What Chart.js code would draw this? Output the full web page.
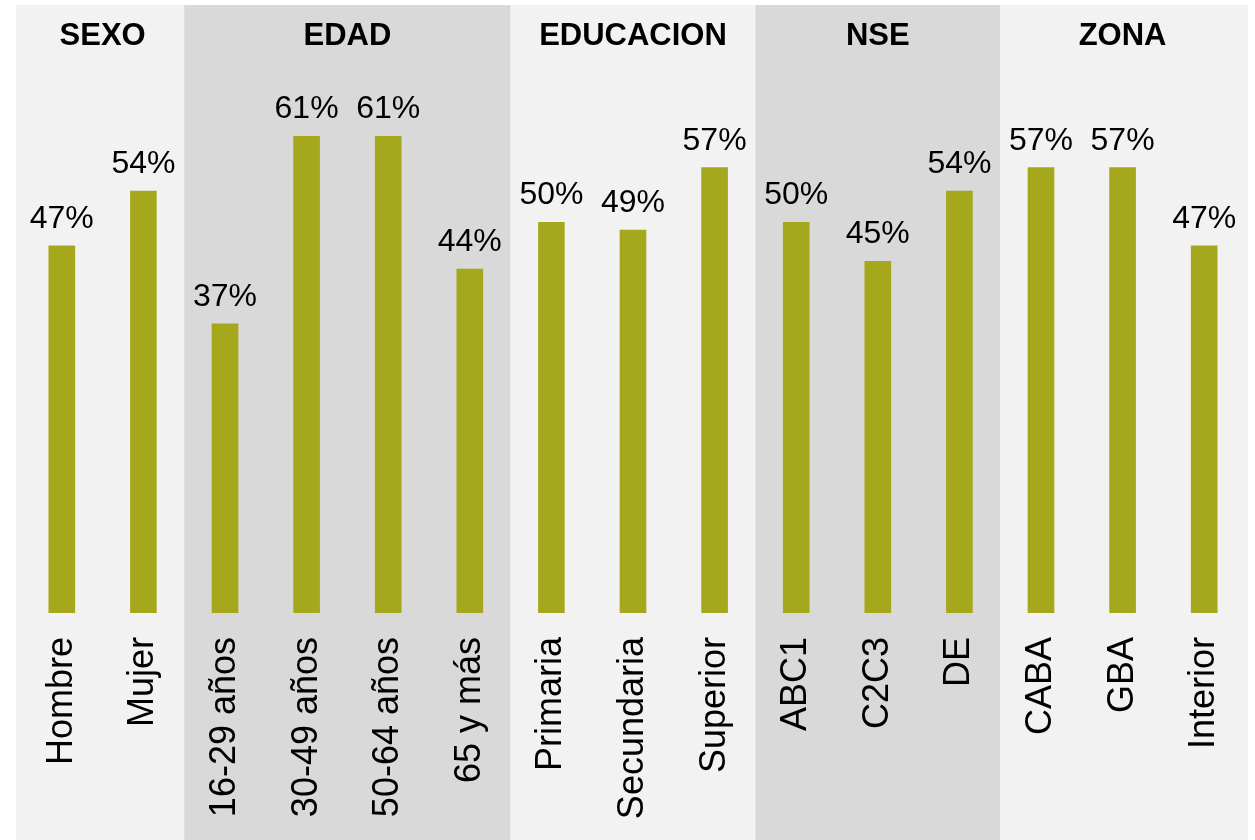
<!DOCTYPE html>
<html>
<head>
<meta charset="utf-8">
<script src="https://cdn.jsdelivr.net/npm/chart.js@4.4.0/dist/chart.umd.min.js"></script>
<style>
  html, body { margin: 0; padding: 0; background: #fff; }
  #wrap { width: 1255px; height: 840px; }
</style>
</head>
<body>
<div id="wrap"><canvas id="chart" width="1255" height="840"></canvas></div>
<script>
const categories = ['Hombre', 'Mujer', '16-29 años', '30-49 años', '50-64 años', '65 y más',
    'Primaria', 'Secundaria', 'Superior', 'ABC1', 'C2C3', 'DE', 'CABA', 'GBA', 'Interior'];
const values = [47, 54, 37, 61, 61, 44, 50, 49, 57, 50, 45, 54, 57, 57, 47];
const groupNames = ['SEXO', 'EDAD', 'EDUCACION', 'NSE', 'ZONA'];
const groupSizes = [2, 4, 3, 3, 3];

const fontFamily = '"Liberation Sans", Arial, Helvetica, sans-serif';
const barColor = '#a5a81d';
const panelColors = ['#f2f2f2', '#d9d9d9'];

// grey panels behind each group + bold group titles
const panelsPlugin = {
    id: 'panels',
    beforeDraw(chart) {
        const ctx = chart.ctx;
        const x = chart.scales.x;
        let start = 0;
        ctx.save();
        groupSizes.forEach((size, g) => {
            let left = x.getPixelForValue(start - 0.5);
            let right = x.getPixelForValue(start + size - 0.5);
            if (g === 0) left -= 5;
            if (g === groupSizes.length - 1) right += 3;
            ctx.fillStyle = panelColors[g % 2];
            ctx.fillRect(left, 5, right - left, chart.height - 5);
            ctx.fillStyle = '#000';
            ctx.font = 'bold 31px ' + fontFamily;
            ctx.textAlign = 'center';
            ctx.textBaseline = 'middle';
            const mid = (x.getPixelForValue(start - 0.5) + x.getPixelForValue(start + size - 0.5)) / 2;
            ctx.fillText(groupNames[g], mid, 36);
            start += size;
        });
        ctx.restore();
    }
};

// percentage labels above the bars
const valueLabels = {
    id: 'valueLabels',
    afterDatasetsDraw(chart) {
        const ctx = chart.ctx;
        const meta = chart.getDatasetMeta(0);
        ctx.save();
        ctx.fillStyle = '#000';
        ctx.font = '32px ' + fontFamily;
        ctx.textAlign = 'center';
        ctx.textBaseline = 'alphabetic';
        meta.data.forEach((bar, i) => {
            ctx.fillText(values[i] + '%', bar.x, bar.y - 18);
        });
        ctx.restore();
    }
};

new Chart(document.getElementById('chart'), {
    type: 'bar',
    data: {
        labels: categories,
        datasets: [{
            data: values,
            backgroundColor: barColor,
            barThickness: 26
        }]
    },
    options: {
        responsive: false,
        animation: false,
        layout: { padding: { top: 66, left: 21, right: 10, bottom: 0 } },
        plugins: { legend: { display: false }, tooltip: { enabled: false } },
        scales: {
            x: {
                grid: { display: false, drawTicks: false },
                border: { display: false },
                afterFit: (scale) => {
                    scale.height = 227;
                    scale.paddingLeft = 0;
                    scale.paddingRight = 0;
                },
                ticks: {
                    autoSkip: false,
                    minRotation: 90,
                    maxRotation: 90,
                    padding: 24,
                    color: '#000',
                    font: { family: fontFamily, size: 36 }
                }
            },
            y: {
                display: false,
                min: 0,
                max: 70
            }
        }
    },
    plugins: [panelsPlugin, valueLabels]
});
</script>
</body>
</html>
